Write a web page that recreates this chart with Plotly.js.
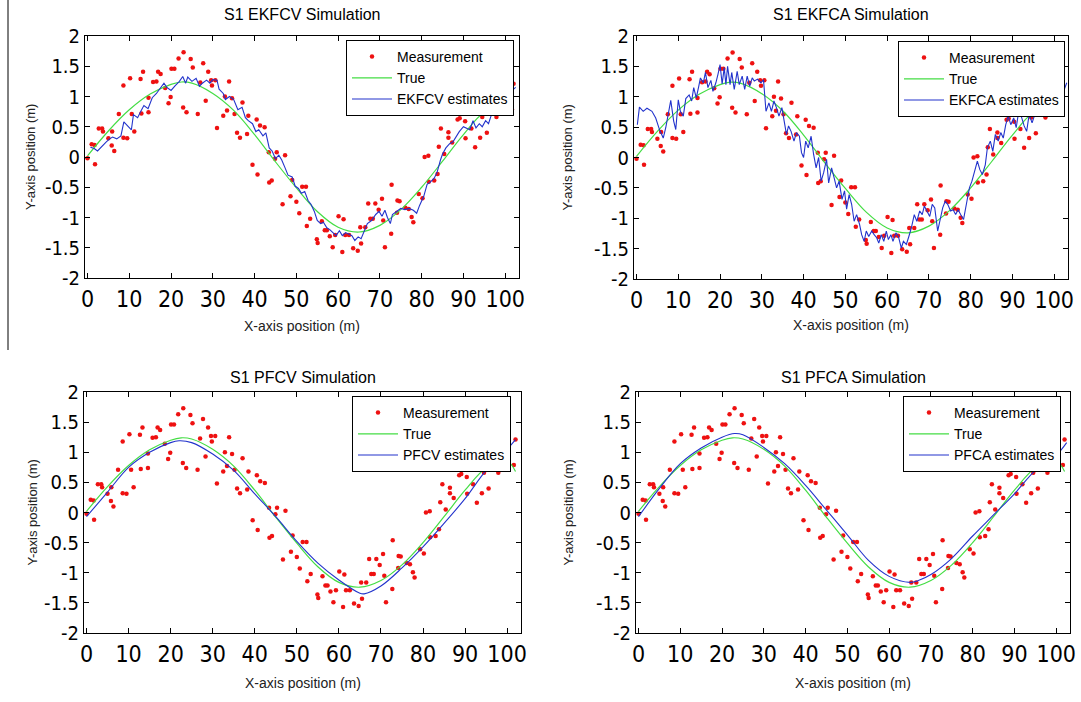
<!DOCTYPE html>
<html>
<head>
<meta charset="utf-8">
<script src="https://cdn.plot.ly/plotly-3.0.1.min.js"></script>
<style>html,body{margin:0;padding:0;background:#fff;}#chart{width:1081px;height:702px;}</style>
</head>
<body>
<div id="chart"></div>
<script>
// ---- Data ----
const titles = ["S1 EKFCV Simulation", "S1 EKFCA Simulation", "S1 PFCV Simulation", "S1 PFCA Simulation"];
const estimateNames = ["EKFCV estimates", "EKFCA estimates", "PFCV estimates", "PFCA estimates"];
const xTickVals = [0, 10, 20, 30, 40, 50, 60, 70, 80, 90, 100];
const yTickVals = [-2, -1.5, -1, -0.5, 0, 0.5, 1, 1.5, 2];
const yTickText = ["-2", "-1.5", "-1", "-0.5", "0", "0.5", "1", "1.5", "2"];

const measX = [0, 1, 1.7, 1.8, 2.7, 3.5, 3.7, 5, 5.8, 5.9, 6.4, 7.5, 8.6, 8.6, 9.5, 10.2, 10.6, 11.2, 12.7, 12.9, 13.3, 14.6, 14.6, 15.7, 16.5, 16.9, 17.5, 18.6, 19.4, 19.9, 20.1, 20.8, 21.8, 22.9, 23, 23.7, 24.7, 25.2, 26.4, 27, 27.7, 28.3, 28.9, 29.6, 29.8, 30.6, 31, 32.5, 32.9, 33.4, 33.9, 34.6, 35.2, 35.8, 36.5, 37.1, 38.2, 38.5, 39.5, 40.5, 40.7, 41.3, 42.4, 43.4, 43.5, 44.1, 44.9, 45.3, 46.7, 47.3, 48.6, 49, 50, 50.7, 51.4, 52.3, 52.5, 53.3, 54.9, 55.1, 56.1, 56.8, 57.3, 58, 58.7, 59.3, 60.1, 61, 61.3, 61.7, 62.6, 63.6, 64.7, 65.3, 65.5, 66.5, 67.2, 67.7, 68.3, 68.9, 69.7, 70.5, 70.8, 71.2, 72.7, 72.8, 74.1, 74.2, 74.7, 76.1, 76.9, 77.6, 78, 79.3, 80.2, 80.7, 81.6, 81.7, 83, 83.8, 84.1, 84.6, 85.4, 86.4, 86.4, 87.3, 88.6, 89.1, 90.4, 90.5, 91.9, 92.8, 94, 94.5, 95.6, 96.5, 97.9, 101.6, 102];
const measY = [-0.02, 0.21, 0.2, -0.12, 0.47, 0.47, 0.42, 0.31, 0.19, 0.42, 0.1, 0.71, 1.18, 0.32, 0.31, 1.3, 0.71, 0.42, 1.29, 0.72, 1.41, 0.98, 0.74, 1.24, 1.25, 1.41, 1.37, 1.14, 0.89, 0.99, 1.46, 1.46, 1.63, 0.82, 1.73, 0.74, 1.62, 1.48, 0.71, 1.23, 1.55, 0.93, 1.41, 1.27, 1.18, 1.27, 0.48, 0.68, 1.0, 0.77, 1.25, 0.97, 0.71, 0.4, 0.32, 0.9, 0.38, 0.68, -0.13, 0.62, -0.29, 0.52, 0.49, 0.08, -0.42, -0.39, -0.03, 0.08, -0.78, 0.03, -0.65, -0.38, -0.74, -0.93, -0.49, -0.49, -1.14, -1.02, -1.36, -1.42, -1.06, -1.21, -1.21, -1.31, -1.49, -1.29, -0.98, -1.57, -1.03, -1.29, -1.29, -1.51, -1.55, -1.16, -1.43, -1.16, -0.77, -1.02, -1.02, -0.77, -0.87, -0.69, -1.05, -1.49, -1.27, -0.46, -0.92, -0.72, -0.73, -0.84, -0.86, -0.99, -1.08, -0.61, -0.68, 0.0, 0.02, -0.41, -0.39, -0.28, 0.17, 0.47, 0.05, 0.32, 0.41, 0.24, 0.62, 0.64, 0.59, 0.31, 0.47, 0.16, 0.32, 0.66, 0.4, 0.76, 0.66, 0.79, 1.21];

const trueX = [0, 5, 10, 15, 20, 22.5, 25, 30, 35, 40, 45, 50, 55, 60, 65, 70, 75, 80, 85, 90, 95, 100, 102];
const trueY = [0.02, 0.43, 0.78, 1.04, 1.2, 1.24, 1.22, 1.05, 0.77, 0.37, -0.08, -0.51, -0.9, -1.16, -1.24, -1.13, -0.87, -0.5, -0.07, 0.37, 0.74, 0.85, 0.68];

const ekfcvX = [0.7, 1.6, 2.4, 3.4, 4.5, 5.3, 6, 7, 8, 8.7, 9.5, 10.5, 11, 12, 12.7, 13.5, 14.5, 15.5, 16.5, 17.5, 18.3, 19, 20, 21, 22, 22.8, 23.5, 24, 25, 26, 26.8, 27.5, 28.5, 29.3, 30, 31, 31.5, 32.5, 33, 34, 35, 36, 37, 37.8, 38.5, 39.5, 40.3, 41, 42, 42.7, 43.5, 44.2, 45, 45.8, 46.5, 47.3, 48, 49, 49.7, 50.5, 51.2, 52, 52.8, 53.5, 54.3, 55, 55.8, 56.5, 57.3, 58, 58.7, 59.5, 60.3, 61, 61.8, 62.5, 63.3, 64, 64.8, 65.5, 66.3, 67, 68, 69, 69.8, 70.5, 71.2, 71.8, 72.5, 73, 74, 75, 76, 77, 78, 78.8, 79.5, 80.5, 81.3, 82, 83, 83.7, 84.5, 85, 85.8, 86.7, 87.5, 88.3, 89, 90, 90.8, 91.5, 92.3, 93, 93.8, 94.5, 95.3, 96, 96.8, 97.5, 100, 102.5];
const ekfcvY = [0.16, 0.14, 0.1, 0.18, 0.25, 0.3, 0.33, 0.3, 0.35, 0.58, 0.52, 0.45, 0.7, 0.65, 0.75, 0.85, 0.8, 0.98, 1.05, 1.15, 1.22, 1.15, 1.1, 1.18, 1.25, 1.33, 1.22, 1.32, 1.25, 1.3, 1.17, 1.22, 1.27, 1.22, 1.28, 1.27, 1.12, 1.05, 0.95, 1.0, 0.95, 0.78, 0.82, 0.65, 0.6, 0.55, 0.42, 0.45, 0.35, 0.4, 0.15, 0.1, -0.03, 0.03, -0.05, -0.18, -0.3, -0.33, -0.48, -0.52, -0.6, -0.57, -0.72, -0.78, -0.9, -1.05, -1.1, -1.08, -1.17, -1.2, -1.25, -1.3, -1.22, -1.3, -1.25, -1.28, -1.3, -1.38, -1.32, -1.35, -1.2, -1.1, -1.05, -0.95, -0.9, -0.98, -0.88, -1.0, -1.1, -0.95, -0.9, -0.85, -0.87, -0.85, -0.88, -0.93, -0.8, -0.65, -0.45, -0.42, -0.35, -0.25, -0.05, 0.05, 0.15, 0.22, 0.25, 0.35, 0.42, 0.5, 0.48, 0.45, 0.6, 0.48, 0.55, 0.5, 0.6, 0.55, 0.72, 0.8, 1.0, 1.15];

const ekfcaX = [0.2, 0.7, 1.6, 2.5, 3.7, 4.6, 5.5, 6.4, 7, 7.5, 8.2, 8.9, 9.4, 10, 10.5, 11.2, 11.8, 12.6, 13.2, 13.7, 14.3, 14.9, 15.3, 16, 16.5, 17.1, 17.8, 18.3, 19, 19.5, 20, 20.5, 21, 21.4, 21.8, 22.4, 22.8, 23.4, 24.1, 24.6, 25.3, 25.9, 26.5, 27.1, 27.7, 28.2, 29, 29.8, 30.4, 31, 31.7, 32.3, 32.9, 33.5, 34.1, 34.8, 35.4, 35.9, 36.4, 37, 37.7, 38.3, 39, 39.5, 40, 40.5, 41.1, 41.8, 42.4, 43, 43.6, 44.2, 44.8, 45.5, 46, 46.7, 47.3, 47.9, 48.5, 49.2, 49.8, 50.3, 50.9, 51.5, 52.1, 52.7, 53.4, 53.9, 54.5, 55, 55.6, 56.3, 56.9, 57.5, 58, 58.6, 59.2, 59.8, 60.3, 60.9, 61.4, 62.1, 62.7, 63.4, 63.9, 64.6, 65.2, 65.8, 66.5, 67.1, 67.8, 68.4, 68.9, 69.6, 70.2, 70.8, 71.4, 72.1, 72.6, 73.3, 73.9, 74.5, 75.2, 75.8, 76.4, 77, 77.6, 78.3, 79.1, 79.7, 80.3, 80.9, 81.6, 82.2, 82.8, 83.5, 84, 84.7, 85.3, 85.9, 86.6, 87.2, 87.8, 88.4, 89, 89.6, 90.3, 90.9, 91.5, 92.1, 92.8, 93.4, 94, 94.7, 95.3, 95.9, 98, 100, 102.3, 103];
const ekfcaY = [0.54, 0.83, 0.76, 0.81, 0.76, 0.65, 0.46, 0.32, 0.49, 0.66, 0.94, 0.6, 0.46, 0.95, 0.76, 0.68, 0.97, 1.03, 0.93, 1.15, 0.98, 1.17, 1.31, 1.23, 1.4, 1.15, 1.27, 1.09, 1.23, 1.37, 1.53, 1.21, 1.48, 1.2, 1.5, 1.2, 1.4, 1.12, 1.42, 1.2, 1.34, 1.12, 1.34, 1.17, 1.31, 1.26, 1.29, 1.23, 1.28, 0.76, 0.9, 0.76, 0.93, 0.82, 0.68, 0.82, 0.6, 0.38, 0.52, 0.43, 0.27, 0.41, 0.35, 0.08, 0.0, 0.27, 0.16, 0.35, 0.05, -0.17, 0.0, -0.39, -0.25, -0.03, -0.42, -0.17, -0.33, -0.5, -0.39, -0.69, -0.55, -0.85, -0.61, -0.77, -1.05, -0.94, -1.1, -1.27, -1.38, -1.21, -1.3, -1.21, -1.27, -1.32, -1.41, -1.27, -1.38, -1.21, -1.35, -1.27, -1.38, -1.24, -1.3, -1.49, -1.38, -1.43, -1.3, -1.16, -0.94, -1.05, -0.88, -0.94, -0.8, -0.88, -0.97, -0.77, -0.83, -1.21, -1.05, -0.83, -0.72, -0.77, -0.88, -0.86, -0.94, -0.86, -0.94, -1.02, -0.72, -0.5, -0.39, -0.22, -0.06, -0.2, -0.28, -0.12, 0.16, 0.27, 0.1, 0.38, 0.27, 0.41, 0.32, 0.54, 0.68, 0.54, 0.65, 0.49, 0.76, 0.68, 0.52, 0.43, 0.71, 0.57, 0.68, 0.82, 0.9, 1.0, 1.1, 1.23];

const pfcvX = [0, 5, 10, 15, 20, 22, 25, 30, 35, 40, 45, 50, 55, 60, 65, 66, 70, 75, 80, 85, 90, 95, 100, 102];
const pfcvY = [-0.07, 0.34, 0.75, 1.0, 1.16, 1.19, 1.16, 0.97, 0.7, 0.31, -0.07, -0.48, -0.84, -1.12, -1.34, -1.35, -1.22, -0.92, -0.57, -0.18, 0.23, 0.7, 1.05, 1.21];

const pfcaX = [0, 5, 10, 15, 20, 23, 25, 30, 35, 40, 45, 50, 55, 60, 65, 67, 70, 75, 80, 85, 90, 95, 100, 102.5];
const pfcaY = [-0.07, 0.4, 0.81, 1.07, 1.25, 1.31, 1.29, 1.08, 0.81, 0.45, 0.04, -0.37, -0.79, -1.06, -1.16, -1.13, -1.03, -0.76, -0.39, -0.04, 0.31, 0.7, 0.95, 1.16];

// ---- Layout geometry (pixels of the 1081x702 canvas) ----
const W = 1081, H = 702;
const frames = [
  {l: 85, r: 519, t: 36, b: 278, titleY: 14, yTitleX: 30, xTitleY: 326},
  {l: 634, r: 1068, t: 36, b: 279, titleY: 14, yTitleX: 567, xTitleY: 325},
  {l: 84, r: 521, t: 392, b: 633, titleY: 377, yTitleX: 32, xTitleY: 683},
  {l: 636, r: 1070, t: 392, b: 633, titleY: 377, yTitleX: 568, xTitleY: 683}
];
const legendPos = [
  {x: 346, y: 40}, {x: 898, y: 41}, {x: 352, y: 396}, {x: 903, y: 396}
];
const estX = [ekfcvX, ekfcaX, pfcvX, pfcaX];
const estY = [ekfcvY, ekfcaY, pfcvY, pfcaY];

const FONT = 'Liberation Sans, Arial, sans-serif';
const COND = 'DejaVu Sans Condensed, Liberation Sans Narrow, Liberation Sans, sans-serif';

const traces = [];
const layout = {
  width: W, height: H,
  margin: {l: 0, r: 0, t: 0, b: 0},
  paper_bgcolor: '#fff', plot_bgcolor: '#fff',
  font: {family: FONT, color: '#000'},
  annotations: [],
  shapes: [
    {type: 'line', xref: 'paper', yref: 'paper', x0: 8 / W, x1: 8 / W, y0: 1, y1: 1 - 350 / H, line: {color: '#000', width: 1}}
  ]
};

for (let i = 0; i < 4; i++) {
  const s = i === 0 ? '' : String(i + 1);
  const xa = 'x' + s, ya = 'y' + s;
  const lg = 'legend' + s;
  traces.push({x: measX, y: measY, xaxis: xa, yaxis: ya, legend: lg, type: 'scatter', mode: 'markers', name: 'Measurement',
    marker: {symbol: 'circle', size: 4.5, color: '#ee1111'}});
  traces.push({x: trueX, y: trueY, xaxis: xa, yaxis: ya, legend: lg, type: 'scatter', mode: 'lines', name: 'True',
    line: {color: '#44dd44', width: 1.2, shape: 'spline'}});
  traces.push({x: estX[i], y: estY[i], xaxis: xa, yaxis: ya, legend: lg, type: 'scatter', mode: 'lines', name: estimateNames[i],
    line: {color: '#2233cc', width: 1.1, shape: i >= 2 ? 'spline' : 'linear'}});

  const f = frames[i];
  const axCommon = {showgrid: false, zeroline: false, showline: true, linecolor: '#000', linewidth: 1,
    mirror: 'ticks', ticks: 'inside', ticklen: 5, tickcolor: '#000', fixedrange: true};
  layout['xaxis' + s] = Object.assign({}, axCommon, {
    domain: [f.l / W, f.r / W], anchor: ya, range: [-0.6, 103.3],
    tickmode: 'array', tickvals: xTickVals,
    tickfont: {family: COND, size: 23, color: '#000'}
  });
  layout['yaxis' + s] = Object.assign({}, axCommon, {
    domain: [1 - f.b / H, 1 - f.t / H], anchor: xa, range: [-2, 2],
    tickmode: 'array', tickvals: yTickVals, ticktext: yTickText,
    tickfont: {family: COND, size: 20, color: '#000'}
  });
  layout[lg] = {
    x: legendPos[i].x / W, y: 1 - legendPos[i].y / H, xanchor: 'left', yanchor: 'top',
    bgcolor: '#fff', bordercolor: '#000', borderwidth: 1,
    font: {family: FONT, size: 14, color: '#000'},
    itemwidth: 40, tracegroupgap: 0
  };
  layout.annotations.push({
    xref: 'paper', yref: 'paper', x: (f.l + f.r) / 2 / W, y: 1 - f.titleY / H, xanchor: 'center', yanchor: 'middle',
    text: titles[i], showarrow: false, font: {family: FONT, size: 16, color: '#000'}
  });
  layout.annotations.push({
    xref: 'paper', yref: 'paper', x: (f.l + f.r) / 2 / W, y: 1 - f.xTitleY / H, xanchor: 'center', yanchor: 'middle',
    text: 'X-axis position (m)', showarrow: false, font: {family: FONT, size: 14, color: '#222'}
  });
  layout.annotations.push({
    xref: 'paper', yref: 'paper', x: f.yTitleX / W, y: 1 - (f.t + f.b) / 2 / H, xanchor: 'center', yanchor: 'middle',
    text: 'Y-axis position (m)', textangle: -90, showarrow: false, font: {family: FONT, size: 13, color: '#222'}
  });
}
layout.showlegend = true;

Plotly.newPlot('chart', traces, layout, {displayModeBar: false, staticPlot: true});
</script>
</body>
</html>
